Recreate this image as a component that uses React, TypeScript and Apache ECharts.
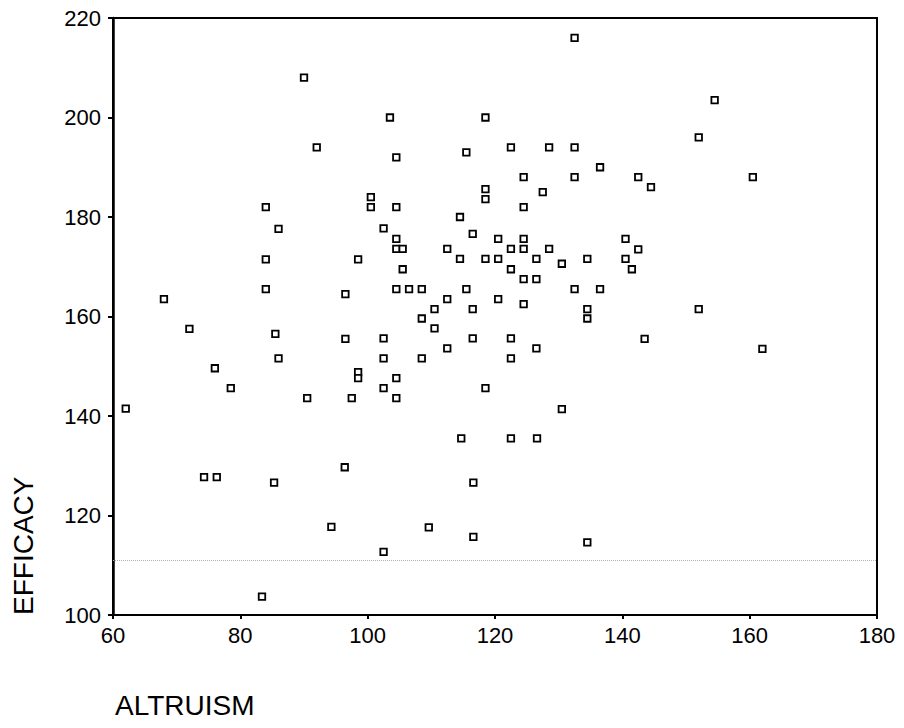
import React, { useEffect, useRef } from "react";
import * as echarts from "echarts";

const altruism = [
  90, 92, 84, 132.5, 103.5, 118.5, 104.5, 115.5, 122.5, 128.5, 132.5, 136.5, 124.5, 132.5, 127.5,
  118.5, 118.5, 100.5, 100.5, 104.5, 124.5, 114.5, 154.5, 152, 142.5, 144.5, 160.5,
  86, 84, 98.5, 84, 68, 96.5, 72, 85.5, 96.5, 86, 76, 78.5, 98.5, 98.5, 90.5, 97.5, 62,
  102.5, 116.5, 104.5, 120.5, 124.5, 140.5, 104.5, 105.5, 112.5, 122.5, 124.5, 128.5,
  114.5, 118.5, 120.5, 126.5, 134.5, 140.5, 130.5, 105.5, 122.5, 141.5, 124.5, 126.5,
  104.5, 106.5, 108.5, 115.5, 132.5, 136.5, 112.5, 120.5, 124.5, 110.5, 116.5, 134.5,
  108.5, 134.5, 110.5, 102.5, 116.5, 122.5, 112.5, 126.5, 102.5, 108.5, 122.5, 104.5,
  102.5, 118.5, 104.5, 130.5,
  142.5, 152, 143.5, 162,
  74.3, 76.3, 85.3, 96.4, 94.3, 83.4,
  114.7, 122.5, 126.6, 116.6, 109.6, 116.6, 134.5, 102.5,
];

const efficacy = [
  208, 194, 182, 216, 200, 200, 192, 193, 194, 194, 194, 190, 188, 188, 185,
  185.6, 183.6, 184, 182, 182, 182, 180, 203.5, 196, 188, 186, 188,
  177.6, 171.5, 171.5, 165.5, 163.5, 164.5, 157.5, 156.5, 155.5, 151.6, 149.6, 145.6, 148.8, 147.6, 143.6, 143.6, 141.5,
  177.7, 176.6, 175.6, 175.6, 175.6, 175.6, 173.6, 173.6, 173.6, 173.6, 173.6, 173.6,
  171.6, 171.6, 171.6, 171.6, 171.6, 171.6, 170.6, 169.5, 169.5, 169.5, 167.5, 167.5,
  165.5, 165.5, 165.5, 165.5, 165.5, 165.5, 163.5, 163.5, 162.5, 161.5, 161.5, 161.5,
  159.6, 159.6, 157.6, 155.6, 155.6, 155.6, 153.6, 153.6, 151.6, 151.6, 151.6, 147.6,
  145.6, 145.6, 143.6, 141.4,
  173.5, 161.5, 155.5, 153.5,
  127.7, 127.7, 126.6, 129.7, 117.7, 103.7,
  135.5, 135.5, 135.5, 126.6, 117.6, 115.7, 114.6, 112.7,
];

const xTicks = { min: 60, max: 180, interval: 20 };
const yTicks = { min: 100, max: 220, interval: 20 };
const referenceLine = 111;
const xName = "ALTRUISM";
const yName = "EFFICACY";

const FONT = "'Liberation Sans', Arial, sans-serif";

export default function App() {
  const ref = useRef<HTMLDivElement>(null);
  useEffect(() => {
    if (!ref.current) return;
    document.body.style.margin = "0";
    const chart = echarts.init(ref.current, null, { renderer: "svg" });
    const data = altruism.map((x, i) => [x, efficacy[i]]);
    chart.setOption({
      animation: false,
      backgroundColor: "#ffffff",
      grid: {
        left: 113,
        right: 27,
        top: 18,
        bottom: 113,
        show: true,
        borderColor: "#000",
        borderWidth: 2,
        backgroundColor: "transparent",
      },
      xAxis: {
        type: "value",
        min: xTicks.min,
        max: xTicks.max,
        interval: xTicks.interval,
        splitLine: { show: false },
        axisLine: { show: true, lineStyle: { color: "#000", width: 2 } },
        axisTick: { show: true, length: 4, lineStyle: { color: "#000", width: 2 } },
        axisLabel: { color: "#000", fontSize: 22, fontFamily: FONT, margin: 9 },
      },
      yAxis: {
        type: "value",
        min: yTicks.min,
        max: yTicks.max,
        interval: yTicks.interval,
        splitLine: { show: false },
        axisLine: { show: true, lineStyle: { color: "#000", width: 2.5 } },
        axisTick: { show: true, length: 5, lineStyle: { color: "#000", width: 2 } },
        axisLabel: { color: "#000", fontSize: 22, fontFamily: FONT, margin: 12 },
      },
      graphic: [
        {
          type: "text",
          x: 115,
          y: 705,
          style: {
            text: xName,
            fill: "#000",
            font: `28px ${FONT}`,
            textAlign: "left",
            textVerticalAlign: "middle",
          },
        },
        {
          type: "text",
          x: 23,
          y: 615,
          rotation: Math.PI / 2,
          style: {
            text: yName,
            fill: "#000",
            font: `28px ${FONT}`,
            textAlign: "left",
            textVerticalAlign: "middle",
          },
        },
      ],
      series: [
        {
          type: "scatter",
          data,
          symbol: "rect",
          symbolSize: 6.5,
          itemStyle: { color: "#ffffff", borderColor: "#000", borderWidth: 1.8, opacity: 1 },
          markLine: {
            silent: true,
            symbol: "none",
            label: { show: false },
            lineStyle: { type: "dotted", color: "#b0b0b0", width: 1 },
            data: [{ yAxis: referenceLine }],
          },
        },
      ],
    });
    return () => chart.dispose();
  }, []);
  return <div ref={ref} style={{ width: 904, height: 728 }} />;
}
